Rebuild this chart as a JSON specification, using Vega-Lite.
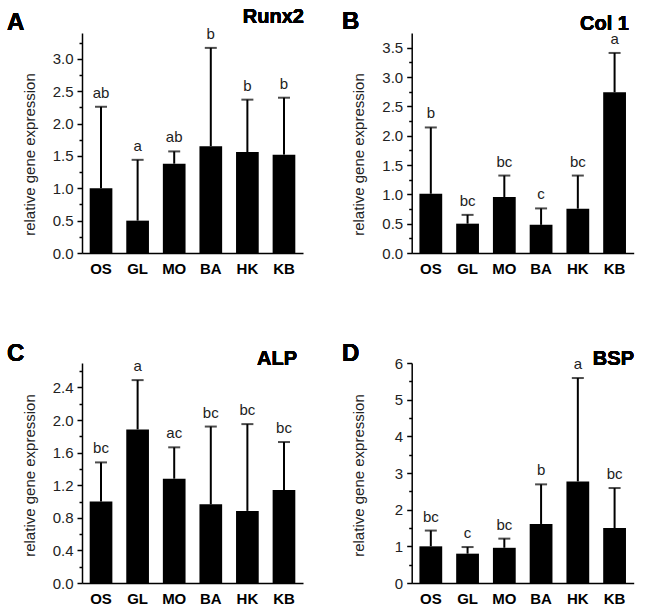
{
  "$schema": "https://vega.github.io/schema/vega-lite/v6.json",
  "padding": {"left": 7, "top": 7, "right": 5, "bottom": 5},
  "config": {
    "font": "Liberation Sans",
    "view": {"stroke": null},
    "axis": {"grid": false}
  },
  "datasets": {
    "d": [
      {"gene": "Runx2", "grp": "OS", "mean": 1.0, "upper": 2.26, "sig": "ab"},
      {"gene": "Runx2", "grp": "GL", "mean": 0.5, "upper": 1.44, "sig": "a"},
      {"gene": "Runx2", "grp": "MO", "mean": 1.38, "upper": 1.57, "sig": "ab"},
      {"gene": "Runx2", "grp": "BA", "mean": 1.65, "upper": 3.17, "sig": "b"},
      {"gene": "Runx2", "grp": "HK", "mean": 1.56, "upper": 2.37, "sig": "b"},
      {"gene": "Runx2", "grp": "KB", "mean": 1.52, "upper": 2.40, "sig": "b"},
      {"gene": "Col 1", "grp": "OS", "mean": 1.01, "upper": 2.14, "sig": "b"},
      {"gene": "Col 1", "grp": "GL", "mean": 0.5, "upper": 0.65, "sig": "bc"},
      {"gene": "Col 1", "grp": "MO", "mean": 0.955, "upper": 1.32, "sig": "bc"},
      {"gene": "Col 1", "grp": "BA", "mean": 0.48, "upper": 0.76, "sig": "c"},
      {"gene": "Col 1", "grp": "HK", "mean": 0.756, "upper": 1.32, "sig": "bc"},
      {"gene": "Col 1", "grp": "KB", "mean": 2.74, "upper": 3.41, "sig": "a"},
      {"gene": "ALP", "grp": "OS", "mean": 1.0, "upper": 1.48, "sig": "bc"},
      {"gene": "ALP", "grp": "GL", "mean": 1.885, "upper": 2.49, "sig": "a"},
      {"gene": "ALP", "grp": "MO", "mean": 1.28, "upper": 1.665, "sig": "ac"},
      {"gene": "ALP", "grp": "BA", "mean": 0.965, "upper": 1.92, "sig": "bc"},
      {"gene": "ALP", "grp": "HK", "mean": 0.885, "upper": 1.95, "sig": "bc"},
      {"gene": "ALP", "grp": "KB", "mean": 1.14, "upper": 1.73, "sig": "bc"},
      {"gene": "BSP", "grp": "OS", "mean": 1.0, "upper": 1.43, "sig": "bc"},
      {"gene": "BSP", "grp": "GL", "mean": 0.8, "upper": 0.98, "sig": "c"},
      {"gene": "BSP", "grp": "MO", "mean": 0.96, "upper": 1.21, "sig": "bc"},
      {"gene": "BSP", "grp": "BA", "mean": 1.61, "upper": 2.69, "sig": "b"},
      {"gene": "BSP", "grp": "HK", "mean": 2.77, "upper": 5.59, "sig": "a"},
      {"gene": "BSP", "grp": "KB", "mean": 1.5, "upper": 2.59, "sig": "bc"}
    ]
  },
  "columns": 2,
  "bounds": "flush",
  "spacing": {"column": 108.7, "row": 110},
  "concat": [
    {
      "width": 221, "height": 220,
      "data": {"name": "d"},
      "transform": [{"filter": "datum.gene === 'Runx2'"}],
      "encoding": {
        "x": {"field": "grp", "type": "nominal", "sort": ["OS","GL","MO","BA","HK","KB"],
          "scale": {"paddingInner": 0.38, "paddingOuter": 0.21},
          "axis": {"title": null, "labelAngle": 0, "labelFontSize": 15, "labelFontWeight": "bold", "labelColor": "black", "labelPadding": 8, "ticks": false, "tickSize": 0, "domainColor": "black", "domainWidth": 1.5}}
      },
      "layer": [
        {"mark": {"type": "bar", "color": "black"},
         "encoding": {"y": {"field": "mean", "type": "quantitative", "scale": {"domain": [0, 3.4], "nice": false},
           "axis": {"title": "relative gene expression", "values": [0,0.5,1,1.5,2,2.5,3], "format": ".1f", "labelFontSize": 15, "labelColor": "#222", "labelPadding": 4, "tickSize": 5, "tickColor": "black", "tickWidth": 1.5, "domainColor": "black", "domainWidth": 1.5, "titleFontSize": 15, "titleFontWeight": "normal", "titleColor": "#222", "titleX": -45, "titleY": 121}}}},
        {"mark": {"type": "rule", "color": "black", "strokeWidth": 2},
         "encoding": {"y": {"field": "mean", "type": "quantitative", "axis": {"orient": "left", "values": [0.25,0.75,1.25,1.75,2.25,2.75,3.25], "labels": false, "domain": false, "title": null, "tickSize": 3, "tickColor": "black", "tickWidth": 1.5}}, "y2": {"field": "upper"}}},
        {"mark": {"type": "tick", "orient": "horizontal", "size": 12, "thickness": 2, "color": "black"},
         "encoding": {"y": {"field": "upper", "type": "quantitative", "axis": null}}},
        {"mark": {"type": "text", "baseline": "alphabetic", "dy": -9, "fontSize": 15, "color": "#222"},
         "encoding": {"y": {"field": "upper", "type": "quantitative", "axis": null}, "text": {"field": "sig"}}},
        {"mark": {"type": "text", "text": "Runx2", "align": "right", "baseline": "alphabetic", "fontSize": 20, "fontWeight": "bold", "color": "black", "dx": 20, "dy": -10},
         "encoding": {"x": {"datum": "KB", "type": "nominal"}, "y": {"datum": 3.4, "type": "quantitative", "axis": null}}},
        {"mark": {"type": "text", "text": "A", "align": "left", "baseline": "alphabetic", "fontSize": 24, "fontWeight": "bold", "color": "black", "dx": -94, "dy": -3},
         "encoding": {"x": {"datum": "OS", "type": "nominal"}, "y": {"datum": 3.4, "type": "quantitative", "axis": null}}}
      ],
      "resolve": {"axis": {"y": "independent"}}
    },
    {
      "width": 222, "height": 220,
      "data": {"name": "d"},
      "transform": [{"filter": "datum.gene === 'Col 1'"}],
      "encoding": {
        "x": {"field": "grp", "type": "nominal", "sort": ["OS","GL","MO","BA","HK","KB"],
          "scale": {"paddingInner": 0.38, "paddingOuter": 0.21},
          "axis": {"title": null, "labelAngle": 0, "labelFontSize": 15, "labelFontWeight": "bold", "labelColor": "black", "labelPadding": 8, "ticks": false, "tickSize": 0, "domainColor": "black", "domainWidth": 1.5}}
      },
      "layer": [
        {"mark": {"type": "bar", "color": "black"},
         "encoding": {"y": {"field": "mean", "type": "quantitative", "scale": {"domain": [0, 3.75], "nice": false},
           "axis": {"title": "relative gene expression", "values": [0,0.5,1,1.5,2,2.5,3,3.5], "format": ".1f", "labelFontSize": 15, "labelColor": "#222", "labelPadding": 4, "tickSize": 5, "tickColor": "black", "tickWidth": 1.5, "domainColor": "black", "domainWidth": 1.5, "titleFontSize": 15, "titleFontWeight": "normal", "titleColor": "#222", "titleX": -45, "titleY": 121}}}},
        {"mark": {"type": "rule", "color": "black", "strokeWidth": 2},
         "encoding": {"y": {"field": "mean", "type": "quantitative", "axis": {"orient": "left", "values": [0.25,0.75,1.25,1.75,2.25,2.75,3.25], "labels": false, "domain": false, "title": null, "tickSize": 3, "tickColor": "black", "tickWidth": 1.5}}, "y2": {"field": "upper"}}},
        {"mark": {"type": "tick", "orient": "horizontal", "size": 12, "thickness": 2, "color": "black"},
         "encoding": {"y": {"field": "upper", "type": "quantitative", "axis": null}}},
        {"mark": {"type": "text", "baseline": "alphabetic", "dy": -9, "fontSize": 15, "color": "#222"},
         "encoding": {"y": {"field": "upper", "type": "quantitative", "axis": null}, "text": {"field": "sig"}}},
        {"mark": {"type": "text", "text": "Col 1", "align": "right", "baseline": "alphabetic", "fontSize": 20, "fontWeight": "bold", "color": "black", "dx": 14.4, "dy": -3},
         "encoding": {"x": {"datum": "KB", "type": "nominal"}, "y": {"datum": 3.75, "type": "quantitative", "axis": null}}},
        {"mark": {"type": "text", "text": "B", "align": "left", "baseline": "alphabetic", "fontSize": 24, "fontWeight": "bold", "color": "black", "dx": -88.8, "dy": -4},
         "encoding": {"x": {"datum": "OS", "type": "nominal"}, "y": {"datum": 3.75, "type": "quantitative", "axis": null}}}
      ],
      "resolve": {"axis": {"y": "independent"}}
    },
    {
      "width": 221, "height": 220,
      "data": {"name": "d"},
      "transform": [{"filter": "datum.gene === 'ALP'"}],
      "encoding": {
        "x": {"field": "grp", "type": "nominal", "sort": ["OS","GL","MO","BA","HK","KB"],
          "scale": {"paddingInner": 0.38, "paddingOuter": 0.21},
          "axis": {"title": null, "labelAngle": 0, "labelFontSize": 15, "labelFontWeight": "bold", "labelColor": "black", "labelPadding": 8, "ticks": false, "tickSize": 0, "domainColor": "black", "domainWidth": 1.5}}
      },
      "layer": [
        {"mark": {"type": "bar", "color": "black"},
         "encoding": {"y": {"field": "mean", "type": "quantitative", "scale": {"domain": [0, 2.7], "nice": false},
           "axis": {"title": "relative gene expression", "values": [0,0.4,0.8,1.2,1.6,2.0,2.4], "format": ".1f", "labelFontSize": 15, "labelColor": "#222", "labelPadding": 4, "tickSize": 5, "tickColor": "black", "tickWidth": 1.5, "domainColor": "black", "domainWidth": 1.5, "titleFontSize": 15, "titleFontWeight": "normal", "titleColor": "#222", "titleX": -45, "titleY": 112}}}},
        {"mark": {"type": "rule", "color": "black", "strokeWidth": 2},
         "encoding": {"y": {"field": "mean", "type": "quantitative", "axis": {"orient": "left", "values": [0.2,0.6,1.0,1.4,1.8,2.2,2.6], "labels": false, "domain": false, "title": null, "tickSize": 3, "tickColor": "black", "tickWidth": 1.5}}, "y2": {"field": "upper"}}},
        {"mark": {"type": "tick", "orient": "horizontal", "size": 12, "thickness": 2, "color": "black"},
         "encoding": {"y": {"field": "upper", "type": "quantitative", "axis": null}}},
        {"mark": {"type": "text", "baseline": "alphabetic", "dy": -9, "fontSize": 15, "color": "#222"},
         "encoding": {"y": {"field": "upper", "type": "quantitative", "axis": null}, "text": {"field": "sig"}}},
        {"mark": {"type": "text", "text": "ALP", "align": "right", "baseline": "alphabetic", "fontSize": 20, "fontWeight": "bold", "color": "black", "dx": 13, "dy": 2},
         "encoding": {"x": {"datum": "KB", "type": "nominal"}, "y": {"datum": 2.7, "type": "quantitative", "axis": null}}},
        {"mark": {"type": "text", "text": "C", "align": "left", "baseline": "alphabetic", "fontSize": 24, "fontWeight": "bold", "color": "black", "dx": -94, "dy": -2},
         "encoding": {"x": {"datum": "OS", "type": "nominal"}, "y": {"datum": 2.7, "type": "quantitative", "axis": null}}}
      ],
      "resolve": {"axis": {"y": "independent"}}
    },
    {
      "width": 222, "height": 220,
      "data": {"name": "d"},
      "transform": [{"filter": "datum.gene === 'BSP'"}],
      "encoding": {
        "x": {"field": "grp", "type": "nominal", "sort": ["OS","GL","MO","BA","HK","KB"],
          "scale": {"paddingInner": 0.38, "paddingOuter": 0.21},
          "axis": {"title": null, "labelAngle": 0, "labelFontSize": 15, "labelFontWeight": "bold", "labelColor": "black", "labelPadding": 8, "ticks": false, "tickSize": 0, "domainColor": "black", "domainWidth": 1.5}}
      },
      "layer": [
        {"mark": {"type": "bar", "color": "black"},
         "encoding": {"y": {"field": "mean", "type": "quantitative", "scale": {"domain": [0, 6], "nice": false},
           "axis": {"title": "relative gene expression", "values": [0,1,2,3,4,5,6], "format": "d", "labelFontSize": 15, "labelColor": "#222", "labelPadding": 4, "tickSize": 5, "tickColor": "black", "tickWidth": 1.5, "domainColor": "black", "domainWidth": 1.5, "titleFontSize": 15, "titleFontWeight": "normal", "titleColor": "#222", "titleX": -45, "titleY": 112}}}},
        {"mark": {"type": "rule", "color": "black", "strokeWidth": 2},
         "encoding": {"y": {"field": "mean", "type": "quantitative", "axis": {"orient": "left", "values": [0.5,1.5,2.5,3.5,4.5,5.5], "labels": false, "domain": false, "title": null, "tickSize": 3, "tickColor": "black", "tickWidth": 1.5}}, "y2": {"field": "upper"}}},
        {"mark": {"type": "tick", "orient": "horizontal", "size": 12, "thickness": 2, "color": "black"},
         "encoding": {"y": {"field": "upper", "type": "quantitative", "axis": null}}},
        {"mark": {"type": "text", "baseline": "alphabetic", "dy": -9, "fontSize": 15, "color": "#222"},
         "encoding": {"y": {"field": "upper", "type": "quantitative", "axis": null}, "text": {"field": "sig"}}},
        {"mark": {"type": "text", "text": "BSP", "align": "right", "baseline": "alphabetic", "fontSize": 20, "fontWeight": "bold", "color": "black", "dx": 19.4, "dy": 2},
         "encoding": {"x": {"datum": "KB", "type": "nominal"}, "y": {"datum": 6, "type": "quantitative", "axis": null}}},
        {"mark": {"type": "text", "text": "D", "align": "left", "baseline": "alphabetic", "fontSize": 24, "fontWeight": "bold", "color": "black", "dx": -88.8, "dy": -2},
         "encoding": {"x": {"datum": "OS", "type": "nominal"}, "y": {"datum": 6, "type": "quantitative", "axis": null}}}
      ],
      "resolve": {"axis": {"y": "independent"}}
    }
  ]
}
